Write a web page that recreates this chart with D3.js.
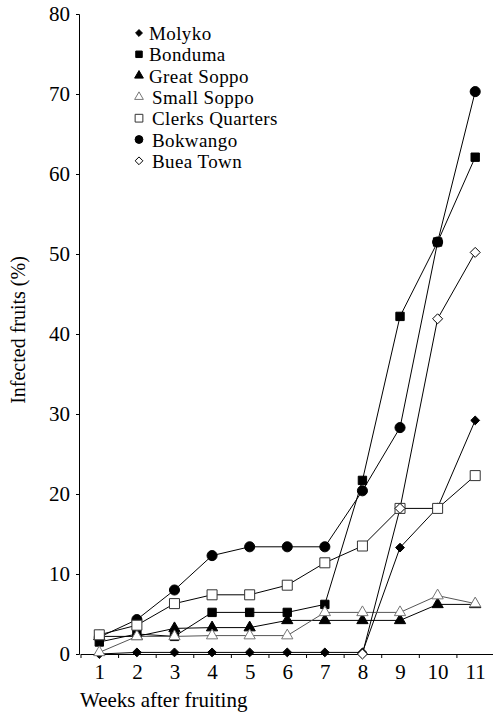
<!DOCTYPE html>
<html>
<head>
<meta charset="utf-8">
<script src="https://cdn.jsdelivr.net/npm/d3@7"></script>
<style>
  body { margin: 0; background: #fff; }
  svg text { font-family: "Liberation Serif", "Times New Roman", serif; fill: #000; }
</style>
</head>
<body>
<div id="vis"></div>
<script>
// frame
const FRAME_WIDTH = 493;
const FRAME_HEIGHT = 714;
const MARGINS = { left: 79, right: 0, top: 14, bottom: 60 };

// data (infected fruits, %)
const weeks = [1, 2, 3, 4, 5, 6, 7, 8, 9, 10, 11];
const yTicks = [0, 10, 20, 30, 40, 50, 60, 70, 80];
const names = ["Molyko", "Bonduma", "Great Soppo", "Small Soppo", "Clerks Quarters", "Bokwango", "Buea Town"];

const molyko = [0, 0.2, 0.2, 0.2, 0.2, 0.2, 0.2, 0.2, 13.3, 18.3, 29.2];
const bonduma = [1.5, 2.5, 2.2, 5.2, 5.2, 5.2, 6.2, 21.7, 42.2, 51.5, 62.1];
const greatSoppo = [2.2, 2.2, 3.2, 3.3, 3.3, 4.2, 4.2, 4.2, 4.2, 6.2, 6.2];
const smallSoppo = [0.2, 2.2, 2.2, 2.3, 2.3, 2.3, 5.2, 5.2, 5.2, 7.3, 6.3];
const clerksQuarters = [2.4, 3.6, 6.3, 7.4, 7.4, 8.6, 11.4, 13.5, 18.2, 18.2, 22.3];
const bokwango = [2.1, 4.3, 8.0, 12.3, 13.4, 13.4, 13.4, 20.4, 28.3, 51.5, 70.3];
const bueaTown = [null, null, null, null, null, null, null, 0, 18.2, 41.9, 50.2];

const VIS_HEIGHT = FRAME_HEIGHT - MARGINS.top - MARGINS.bottom;

const svg = d3.select("#vis")
    .append("svg")
    .attr("width", FRAME_WIDTH)
    .attr("height", FRAME_HEIGHT);

// scales
const X_SCALE = d3.scaleLinear()
    .domain([0.5, 11.5])
    .range([80.5, 494]);

const Y_SCALE = d3.scaleLinear()
    .domain([0, 80])
    .range([MARGINS.top + VIS_HEIGHT, MARGINS.top]);

const Y0 = Y_SCALE(0);

// square-ish diamond (older builds only have the tall one)
const DIAMOND = d3.symbolDiamond2 || d3.symbolDiamond;

// marker style per series
const styles = [
    { type: DIAMOND, size: 50, fill: "#000", stroke: "#000" },
    { type: d3.symbolSquare, size: 70, fill: "#000", stroke: "#000" },
    { type: d3.symbolTriangle, size: 55, fill: "#000", stroke: "#000" },
    { type: d3.symbolTriangle, size: 55, fill: "#fff", stroke: "#777" },
    { type: d3.symbolSquare, size: 100, fill: "#fff", stroke: "#333" },
    { type: d3.symbolCircle, size: 80, fill: "#000", stroke: "#000" },
    { type: DIAMOND, size: 64, fill: "#fff", stroke: "#000" }
];

const series = [molyko, bonduma, greatSoppo, smallSoppo, clerksQuarters, bokwango, bueaTown]
    .map((vals, i) => ({
        name: names[i],
        style: styles[i],
        points: weeks.map((w, j) => ({ week: w, value: vals[j] })).filter(p => p.value !== null)
    }));

// y axis
svg.append("g")
    .attr("transform", `translate(79,0)`)
    .call(d3.axisLeft(Y_SCALE).tickValues(yTicks).tickSize(3).tickPadding(6))
    .call(g => g.selectAll("text").style("font-size", "21px"))
    .call(g => g.select(".domain").attr("stroke", "#000"));

// x axis: ticks on the category boundaries, labels at centres
svg.append("g")
    .attr("transform", `translate(0,${Y0})`)
    .call(d3.axisBottom(X_SCALE).tickValues(d3.range(0.5, 11.6, 1)).tickSize(4).tickFormat("").tickSizeOuter(0));

svg.append("g")
    .attr("transform", `translate(0,${Y0})`)
    .call(d3.axisBottom(X_SCALE).tickValues(weeks).tickSize(0).tickPadding(10))
    .call(g => g.select(".domain").remove())
    .call(g => g.selectAll("text").style("font-size", "21px"));

// lines
const line = d3.line()
    .x(d => X_SCALE(d.week))
    .y(d => Y_SCALE(d.value));

svg.append("g")
    .selectAll("path")
    .data(series)
    .enter()
    .append("path")
    .attr("d", d => line(d.points))
    .attr("fill", "none")
    .attr("stroke", (d, i) => i === 3 ? "#555" : "#000")
    .attr("stroke-width", 1);

// markers, Clerks drawn after Bokwango, Buea Town on top
const drawOrder = [0, 1, 2, 3, 5, 4, 6];
drawOrder.forEach(i => {
    const s = series[i];
    svg.append("g")
        .selectAll("path")
        .data(s.points)
        .enter()
        .append("path")
        .attr("transform", d => `translate(${X_SCALE(d.week)},${Y_SCALE(d.value)})`)
        .attr("d", d3.symbol().type(s.style.type).size(s.style.size))
        .attr("fill", s.style.fill)
        .attr("stroke", s.style.stroke)
        .attr("stroke-width", 1);
});

// legend
const legend = svg.append("g").attr("transform", "translate(139,33)");
const legendRows = legend.selectAll("g")
    .data(series)
    .enter()
    .append("g")
    .attr("transform", (d, i) => `translate(0,${i * 21.3})`);

legendRows.append("path")
    .attr("d", d => d3.symbol().type(d.style.type).size(d.style.size * 0.6)())
    .attr("fill", d => d.style.fill)
    .attr("stroke", d => d.style.stroke);

legendRows.append("text")
    .attr("x", (d, i) => i < 3 ? 10 : 13)
    .attr("y", 7)
    .style("font-size", "19px")
    .style("letter-spacing", "0.4px")
    .text(d => d.name);

// axis titles
svg.append("text")
    .attr("x", 80)
    .attr("y", 707)
    .style("font-size", "21px")
    .text("Weeks after fruiting");

svg.append("text")
    .attr("transform", "translate(25,330) rotate(-90)")
    .attr("text-anchor", "middle")
    .style("font-size", "20px")
    .text("Infected fruits (%)");
</script>
</body>
</html>
